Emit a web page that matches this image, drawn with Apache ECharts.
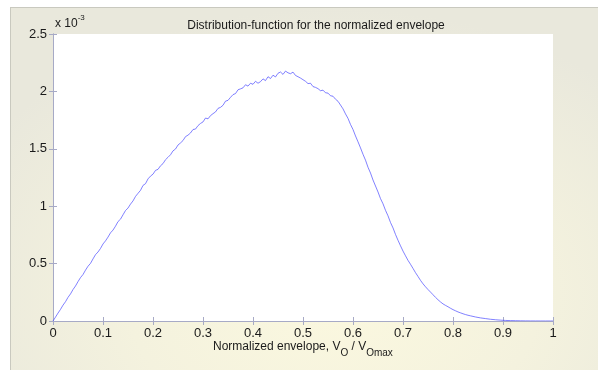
<!DOCTYPE html>
<html>
<head>
<meta charset="utf-8">
<script src="https://cdn.jsdelivr.net/npm/echarts@6/dist/echarts.min.js"></script>
<style>
  html, body { margin: 0; padding: 0; background: #ffffff; }
  #wrap { position: relative; width: 598px; height: 370px; overflow: hidden; }
  #panel { position: absolute; left: 10px; top: 7px; right: 0; bottom: 0;
    border-left: 1px solid #c9c9bf; border-top: 1px solid #c9c9bf;
    background: radial-gradient(ellipse 70% 80% at 55% 80%, #fbf8df 0%, #f4f2de 50%, #e9e8dc 100%); }
  #chart { position: absolute; left: 0; top: 0; width: 598px; height: 370px; }
</style>
</head>
<body>
<div id="wrap"><div id="panel"></div><div id="chart"></div></div>
<script>
// Envelope grid: start and step of the normalized envelope samples
const xStart = 0;
const xStep = 0.005;
// Distribution-function values (units of 1e-3)
const density = [
  0, 0.034, 0.069, 0.101, 0.138, 0.168, 0.206, 0.236, 0.274, 0.305,
  0.343, 0.378, 0.405, 0.443, 0.477, 0.502, 0.541, 0.578, 0.601, 0.632,
  0.671, 0.698, 0.731, 0.768, 0.792, 0.826, 0.866, 0.887, 0.925, 0.962,
  0.984, 1.018, 1.046, 1.085, 1.112, 1.138, 1.181, 1.196, 1.238, 1.262,
  1.279, 1.312, 1.321, 1.352, 1.371, 1.405, 1.426, 1.448, 1.482, 1.498,
  1.533, 1.551, 1.572, 1.606, 1.619, 1.638, 1.668, 1.672, 1.702, 1.721,
  1.734, 1.768, 1.761, 1.789, 1.806, 1.821, 1.852, 1.861, 1.879, 1.915,
  1.922, 1.948, 1.972, 1.981, 2.014, 2.022, 2.031, 2.058, 2.046, 2.071,
  2.062, 2.088, 2.071, 2.085, 2.109, 2.094, 2.128, 2.112, 2.141, 2.126,
  2.158, 2.169, 2.148, 2.177, 2.162, 2.154, 2.168, 2.139, 2.128, 2.116,
  2.102, 2.088, 2.068, 2.071, 2.042, 2.035, 2.024, 2.006, 2.011, 1.988,
  1.985, 1.962, 1.958, 1.932, 1.914, 1.881, 1.848, 1.804, 1.765, 1.712,
  1.668, 1.612, 1.561, 1.508, 1.452, 1.401, 1.339, 1.289, 1.228, 1.176,
  1.124, 1.066, 1.021, 0.964, 0.916, 0.858, 0.811, 0.754, 0.703, 0.655,
  0.609, 0.568, 0.528, 0.494, 0.458, 0.421, 0.388, 0.354, 0.324, 0.298,
  0.274, 0.252, 0.229, 0.206, 0.185, 0.166, 0.149, 0.136, 0.124, 0.111,
  0.099, 0.089, 0.079, 0.071, 0.063, 0.056, 0.050, 0.045, 0.040, 0.035,
  0.031, 0.027, 0.024, 0.021, 0.018, 0.015, 0.013, 0.011, 0.009, 0.0075,
  0.006, 0.005, 0.004, 0.0035, 0.003, 0.0025, 0.002, 0.0016, 0.0012, 0.0009,
  0.0007, 0.0005, 0.0004, 0.0003, 0.0002, 0.00015, 0.0001, 0.00007, 0.00005, 0.00002,
  0
];
const xTicks = [0, 0.1, 0.2, 0.3, 0.4, 0.5, 0.6, 0.7, 0.8, 0.9, 1];
const yTicks = [0, 0.5, 1, 1.5, 2, 2.5];
const titleText = 'Distribution-function for the normalized envelope';

const points = density.map((v, i) => [+(xStart + i * xStep).toFixed(4), v]);

const font = '"Liberation Sans", Arial, sans-serif';
const axisColor = '#a7aac6';
const labelColor = '#1a1a1a';

function xAxisDef(pos, showLabels) {
  return {
    type: 'value', position: pos, min: xTicks[0], max: xTicks[xTicks.length - 1],
    interval: xTicks[1] - xTicks[0],
    axisLine: { show: true, lineStyle: { color: axisColor, width: 1 } },
    axisTick: { show: true, inside: true, length: 4, lineStyle: { color: axisColor } },
    axisLabel: { show: showLabels, color: labelColor, fontFamily: font, fontSize: 13, margin: 6 },
    splitLine: { show: false }
  };
}
function yAxisDef(pos, showLabels) {
  return {
    type: 'value', position: pos, min: yTicks[0], max: yTicks[yTicks.length - 1],
    interval: yTicks[1] - yTicks[0],
    axisLine: { show: true, lineStyle: { color: axisColor, width: 1 } },
    axisTick: { show: true, inside: true, length: 4, lineStyle: { color: axisColor } },
    axisLabel: { show: showLabels, color: labelColor, fontFamily: font, fontSize: 13, margin: 6 },
    splitLine: { show: false }
  };
}

const chart = echarts.init(document.getElementById('chart'), null, { renderer: 'canvas' });
chart.setOption({
  backgroundColor: 'transparent',
  animation: false,
  title: {
    text: titleText, left: 311, top: 15, textAlign: 'center',
    textStyle: { fontFamily: font, fontSize: 12, fontWeight: 'normal', color: labelColor }
  },
  grid: { left: 53, top: 34, width: 500, height: 287, show: true, backgroundColor: '#ffffff', borderWidth: 0 },
  xAxis: [xAxisDef('bottom', true), xAxisDef('top', false)],
  yAxis: [yAxisDef('left', true), yAxisDef('right', false)],
  graphic: [
    {
      type: 'text', left: 55, top: 14,
      style: {
        text: '{b|x 10}{s|-3}',
        rich: {
          b: { fontFamily: font, fontSize: 12, fill: labelColor, verticalAlign: 'bottom', lineHeight: 16 },
          s: { fontFamily: font, fontSize: 8, fill: labelColor, verticalAlign: 'top', lineHeight: 16, padding: [0, 0, 8, 0] }
        }
      }
    },
    {
      type: 'text', left: 213, top: 340,
      style: {
        text: '{n|Normalized envelope, V}{sub|O}{n| / V}{sub|Omax}',
        rich: {
          n: { fontFamily: font, fontSize: 12, fill: labelColor, lineHeight: 16, padding: [0, 0, 4, 0] },
          sub: { fontFamily: font, fontSize: 10, fill: labelColor, lineHeight: 16, padding: [8, 0, 0, 0] }
        }
      }
    }
  ],
  series: [{
    type: 'line', data: points, xAxisIndex: 0, yAxisIndex: 0,
    showSymbol: false, symbol: 'none', smooth: false,
    lineStyle: { color: '#4a4aff', width: 0.7 }
  }]
});
</script>
</body>
</html>
